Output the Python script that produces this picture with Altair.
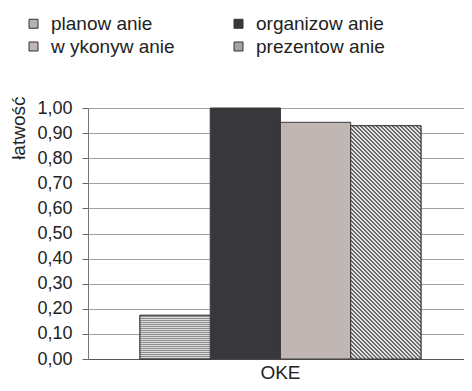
import altair as alt
import pandas as pd

# ---- data ----
series = ["planow anie", "organizow anie", "w ykonyw anie", "prezentow anie"]
values = [0.174, 1.00, 0.943, 0.929]
group = ["OKE", "OKE", "OKE", "OKE"]

df = pd.DataFrame({"group": group, "series": series, "value": values})

FONT = "Liberation Sans"
solid_colors = ["#b4b4b4", "#38373c", "#c0b6b3", "#a4a4a4"]

# ---- styling helpers (patterns made with gradients) ----
def stripe_stops(n, c1, c2):
    stops = []
    for i in range(n):
        a = i / n
        m = (i + 0.5) / n
        b = (i + 1) / n
        stops += [{"offset": a, "color": c1}, {"offset": m, "color": c1},
                  {"offset": m, "color": c2}, {"offset": b, "color": c2}]
    return stops

horiz_fill = {"gradient": "linear", "x1": 0, "y1": 0, "x2": 0, "y2": 1,
              "stops": stripe_stops(22, "#dcdcdc", "#8c8c8c")}

# diagonal "\" hatch for a bar of roughly 70.3 x 233.2 px
bw, bh = 70.3, 233.2
ratio = bw / bh
lam = (1 + ratio) / (ratio ** 2 + 1)
n_diag = 76
diag_fill = {"gradient": "linear", "x1": 0, "y1": 1,
             "x2": ratio * lam, "y2": 1 - lam,
             "stops": stripe_stops(n_diag, "#e4e4e4", "#6c6c6c")}

x_enc = alt.X("group:N", title=None,
              scale=alt.Scale(paddingInner=0, paddingOuter=0.169, align=0.547),
              axis=alt.Axis(labelAngle=0, ticks=False, tickSize=0,
                            labelPadding=4, labelFontSize=19,
                            labelFont=FONT, labelColor="#222222",
                            domainColor="#555555", domainWidth=1.2,
                            grid=False))
xo_enc = alt.XOffset("series:N", sort=series,
                     scale=alt.Scale(domain=series, paddingInner=0, paddingOuter=0))
y_enc = alt.Y("value:Q", title="łatwość",
              scale=alt.Scale(domain=[0, 1], nice=False),
              axis=alt.Axis(values=[i / 10 for i in range(11)],
                            labelExpr="replace(format(datum.value, '.2f'), '.', ',')",
                            labelFontSize=18, labelFont=FONT, labelColor="#222222",
                            labelPadding=10, tickSize=6, tickColor="#666666",
                            domainColor="#777777",
                            gridColor="#a89e9e", gridWidth=1,
                            titleFont=FONT, titleFontSize=19,
                            titleFontWeight="normal", titleColor="#222222",
                            titleAngle=270, titleAlign="right",
                            titleBaseline="alphabetic",
                            titleX=-64, titleY=-12))

base = alt.Chart(df).mark_bar(stroke="#3a3a3a", strokeWidth=1).encode(
    x=x_enc, xOffset=xo_enc, y=y_enc,
    color=alt.Color("series:N", sort=series,
                    scale=alt.Scale(domain=series, range=solid_colors),
                    legend=alt.Legend(title=None, orient="none",
                                      direction="horizontal",
                                      legendX=-64, legendY=-94,
                                      columns=2, columnPadding=54,
                                      rowPadding=3, padding=0,
                                      symbolType="square", symbolSize=81,
                                      symbolStrokeColor="#333333",
                                      symbolStrokeWidth=1,
                                      labelFont=FONT, labelFontSize=19,
                                      labelColor="#222222", labelOffset=8,
                                      labelLimit=300))
)

over_plan = alt.Chart(df).transform_filter(
    alt.datum.series == series[0]
).mark_bar(fill=horiz_fill, stroke="#3a3a3a", strokeWidth=1).encode(
    x=x_enc, xOffset=xo_enc, y=y_enc)

over_prez = alt.Chart(df).transform_filter(
    alt.datum.series == series[3]
).mark_bar(fill=diag_fill, stroke="#3a3a3a", strokeWidth=1).encode(
    x=x_enc, xOffset=xo_enc, y=y_enc)

chart = alt.layer(base, over_plan, over_prez).properties(
    width=376, height=251,
    autosize=alt.AutoSizeParams(type="none"),
    padding={"left": 80, "top": 100, "right": 0, "bottom": 24},
).configure_view(stroke=None).configure(font=FONT)

chart.save("out.html", embed_options={"renderer": "svg", "actions": False})
